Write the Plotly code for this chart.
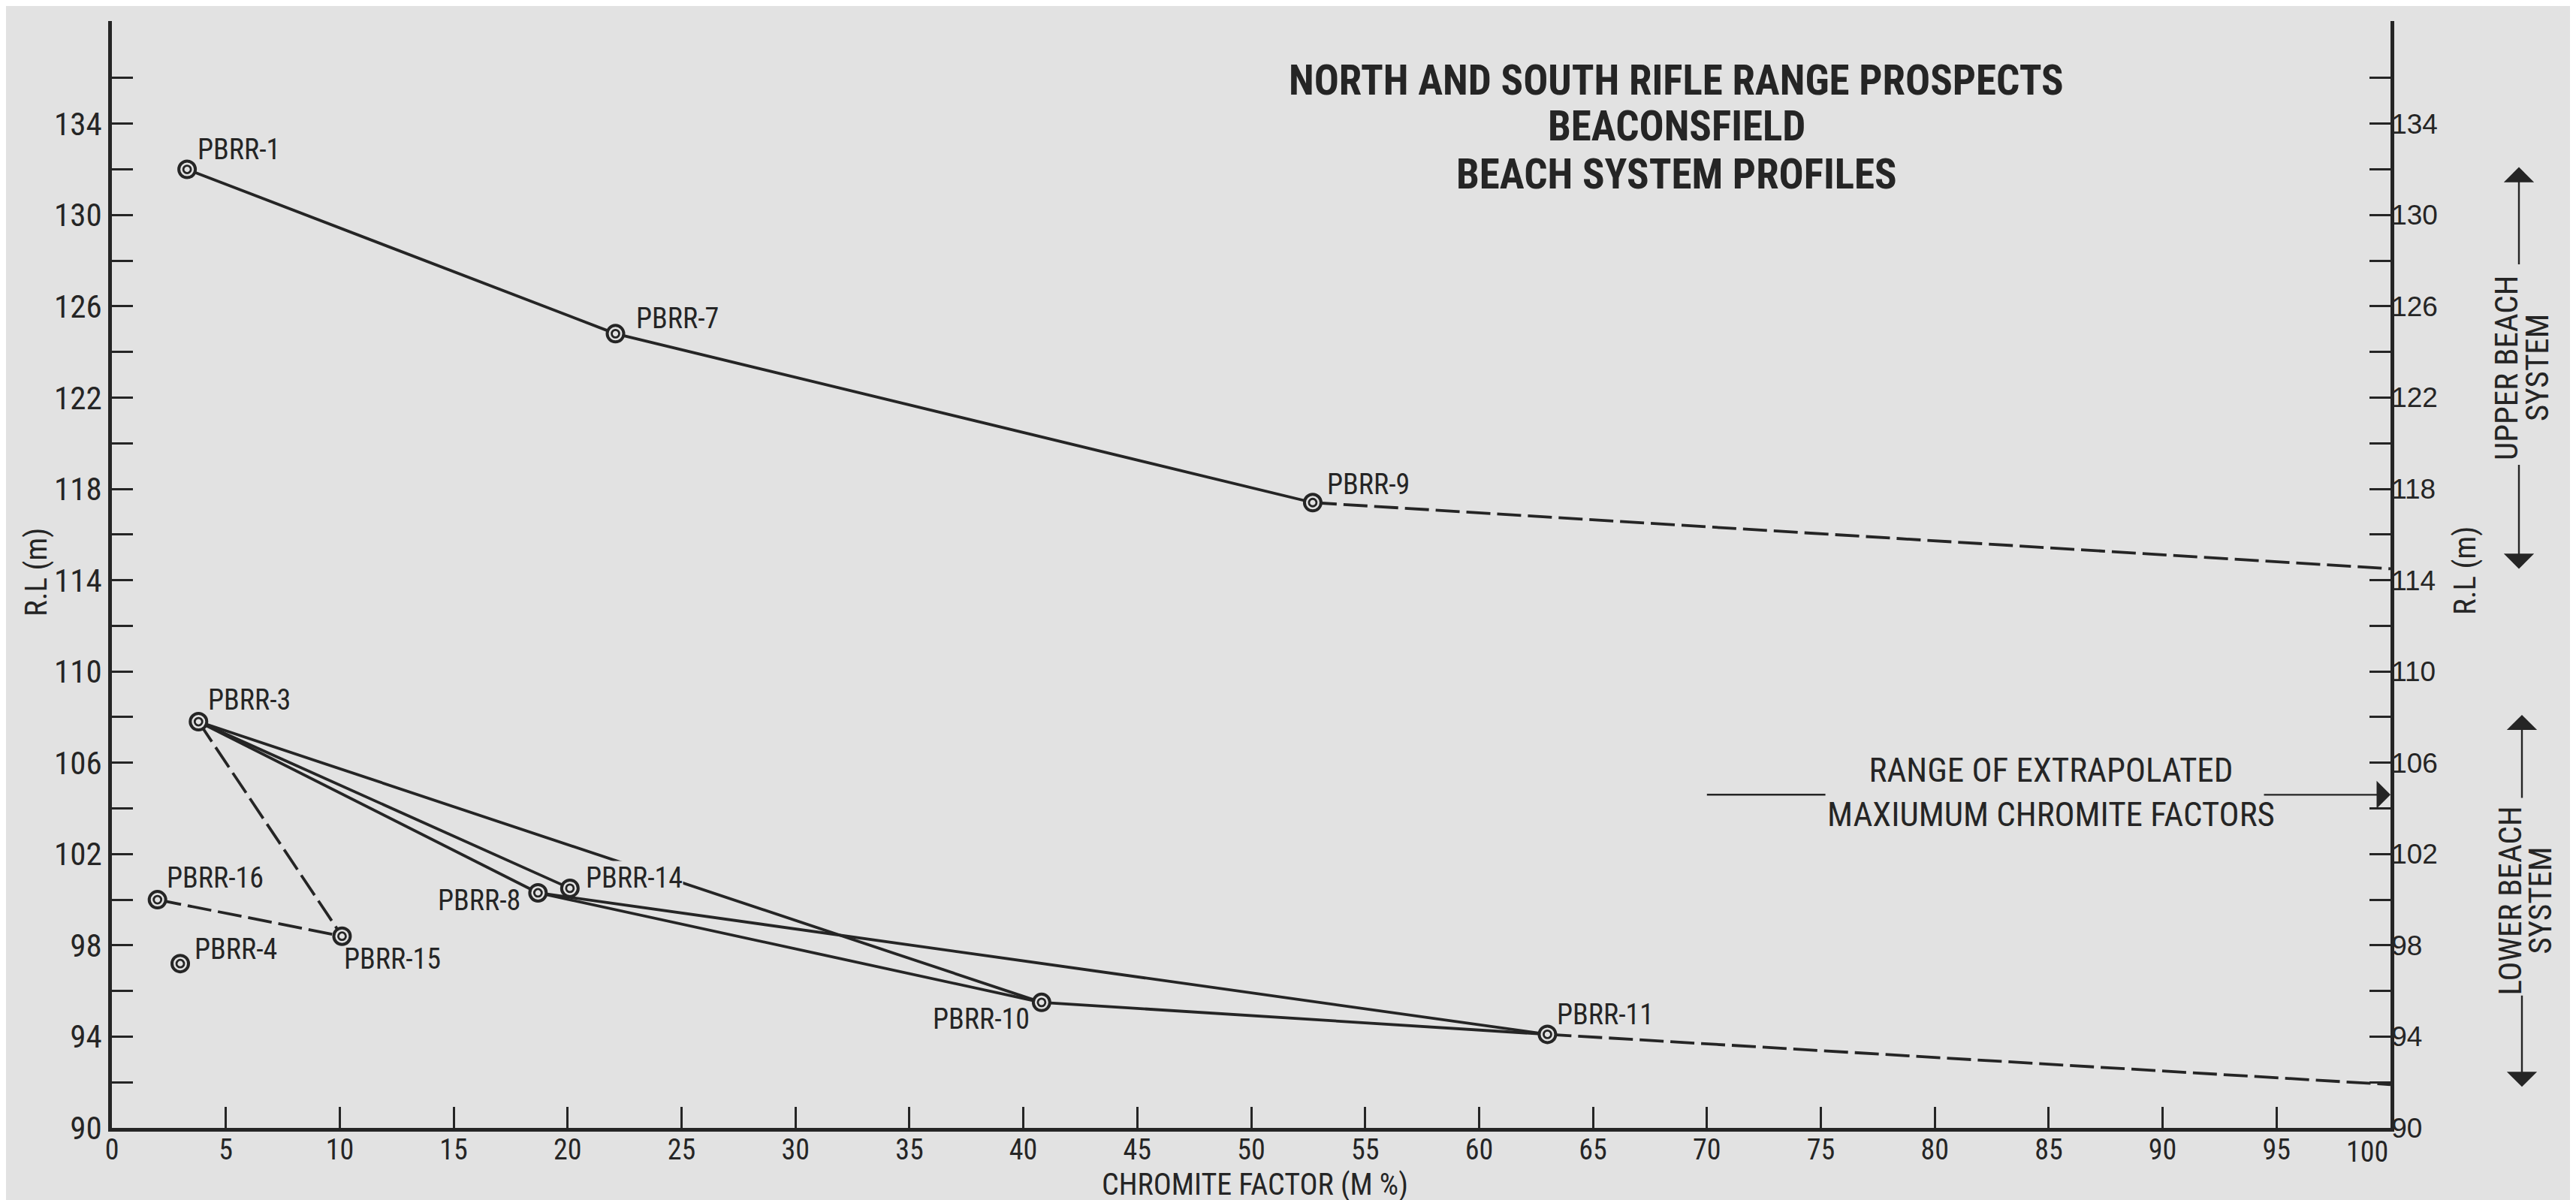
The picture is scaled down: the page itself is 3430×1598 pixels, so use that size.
import plotly.graph_objects as go

# ---------------- data ----------------
bore_names = ["PBRR-1", "PBRR-7", "PBRR-9", "PBRR-3", "PBRR-4", "PBRR-8",
              "PBRR-10", "PBRR-11", "PBRR-14", "PBRR-15", "PBRR-16"]
chromite_factor = [3.3, 22.1, 52.7, 3.8, 3.0, 18.7, 40.8, 63.0, 20.1, 10.1, 2.0]
reduced_level = [132.0, 124.8, 117.4, 107.8, 97.2, 100.3, 95.5, 94.1, 100.5, 98.4, 100.0]

solid_links = [("PBRR-1", "PBRR-7"), ("PBRR-7", "PBRR-9"),
               ("PBRR-3", "PBRR-14"), ("PBRR-3", "PBRR-8"), ("PBRR-3", "PBRR-10"),
               ("PBRR-8", "PBRR-10"), ("PBRR-8", "PBRR-11"), ("PBRR-10", "PBRR-11")]
dashed_links = [("PBRR-3", "PBRR-15"), ("PBRR-16", "PBRR-15")]

# extrapolated profiles to 100 % chromite factor
extrap_from = ["PBRR-9", "PBRR-11"]
extrap_cf = [100, 100]
extrap_rl = [114.5, 91.9]

max_cf_range_rl = 104.6          # range of extrapolated maximum chromite factors
upper_system_rl = [132.1, 114.5]  # upper beach system extent
lower_system_rl = [108.1, 91.8]   # lower beach system extent

x_tick_values = [0, 5, 10, 15, 20, 25, 30, 35, 40, 45, 50, 55, 60, 65, 70, 75, 80, 85, 90, 95, 100]
x_tick_labels = ["0", "5", "10", "15", "20", "25", "30", "35", "40", "45", "50", "55", "60",
                 "65", "70", "75", "80", "85", "90", "95", "100"]
y_tick_values = [90, 92, 94, 96, 98, 100, 102, 104, 106, 108, 110, 112, 114, 116, 118, 120,
                 122, 124, 126, 128, 130, 132, 134, 136]
y_tick_labels = ["90", "", "94", "", "98", "", "102", "", "106", "", "110", "", "114", "",
                 "118", "", "122", "", "126", "", "130", "", "134", ""]

title_lines = ["NORTH AND SOUTH RIFLE RANGE PROSPECTS", "BEACONSFIELD", "BEACH SYSTEM PROFILES"]

# ---------------- style ----------------
BG = "#e2e2e2"
INK = "#252525"
NARROW = "Liberation Sans Narrow, Roboto Condensed, DejaVu Sans Condensed, Arial Narrow, sans-serif"
WIDE = "Liberation Sans, Arial, Helvetica, sans-serif"

W, H = 3430, 1598
L, R, T, B = 141, 3175, 20, 1494


def px(xp):
    return (xp - L) / (R - L)


def py(yp):
    return (B - yp) / (B - T)


pos = {n: (x, y) for n, x, y in zip(bore_names, chromite_factor, reduced_level)}

fig = go.Figure()

# solid profile lines
sx, sy = [], []
for a, b in solid_links:
    sx += [pos[a][0], pos[b][0], None]
    sy += [pos[a][1], pos[b][1], None]
fig.add_trace(go.Scatter(x=sx, y=sy, mode="lines", line=dict(color=INK, width=3.8),
                         hoverinfo="skip", showlegend=False))

# dashed lines (inferred + extrapolated)
dx, dy = [], []
for a, b in dashed_links:
    dx += [pos[a][0], pos[b][0], None]
    dy += [pos[a][1], pos[b][1], None]
for a, ex, ey in zip(extrap_from, extrap_cf, extrap_rl):
    dx += [pos[a][0], ex, None]
    dy += [pos[a][1], ey, None]
fig.add_trace(go.Scatter(x=dx, y=dy, mode="lines",
                         line=dict(color=INK, width=3.8, dash="32px,9px"),
                         hoverinfo="skip", showlegend=False))

# double-circle markers
fig.add_trace(go.Scatter(x=chromite_factor, y=reduced_level, mode="markers",
                         marker=dict(symbol="circle", size=22, color=BG,
                                     line=dict(color=INK, width=4)),
                         text=bore_names, hoverinfo="text", showlegend=False))
fig.add_trace(go.Scatter(x=chromite_factor, y=reduced_level, mode="markers",
                         marker=dict(symbol="circle-open", size=10, color=INK,
                                     line=dict(color=INK, width=2.8)),
                         hoverinfo="skip", showlegend=False))

# invisible trace on right axis
fig.add_trace(go.Scatter(x=[None], y=[None], yaxis="y2", showlegend=False, hoverinfo="skip"))

# point labels: (xanchor, xshift, yshift)
label_style = {
    "PBRR-1": ("left", 13, 27), "PBRR-7": ("left", 26, 20), "PBRR-9": ("left", 18, 24),
    "PBRR-3": ("left", 12, 29), "PBRR-16": ("left", 11, 29), "PBRR-4": ("left", 18, 19),
    "PBRR-15": ("left", 2, -30), "PBRR-8": ("right", -22, -10), "PBRR-14": ("left", 20, 14),
    "PBRR-10": ("right", -15, -22), "PBRR-11": ("left", 12, 26),
}
annotations = []
for n, x, y in zip(bore_names, chromite_factor, reduced_level):
    xa, xs, ys = label_style[n]
    annotations.append(dict(x=x, y=y, xref="x", yref="y", text=n, showarrow=False,
                            xanchor=xa, yanchor="middle", xshift=xs, yshift=ys,
                            font=dict(family=NARROW, size=38, color=INK),
                            bgcolor=BG if n == "PBRR-14" else None, borderpad=0))

# last x tick label drawn slightly left of its tick (as in the original drawing)
annotations.append(dict(x=x_tick_values[-1], y=90, xref="x", yref="y", text=x_tick_labels[-1],
                        showarrow=False, xanchor="right", yanchor="middle",
                        xshift=-2, yshift=-32, borderpad=0,
                        font=dict(family=NARROW, size=38, color=INK)))
x_tick_text = x_tick_labels[:-1] + [""]

# title
for line, yp in zip(title_lines, [99, 160, 224]):
    annotations.append(dict(x=px(2224), y=py(yp), xref="paper", yref="paper", text=line,
                            showarrow=False, xanchor="center", yanchor="middle",
                            font=dict(family=NARROW, size=55, color=INK, weight="bold")))

# axis titles
annotations.append(dict(x=px(1663), y=py(1569), xref="paper", yref="paper",
                        text="CHROMITE FACTOR (M %)", showarrow=False,
                        xanchor="center", yanchor="middle", borderpad=0,
                        font=dict(family=NARROW, size=40, color=INK)))
annotations.append(dict(x=px(40), y=py(754), xref="paper", yref="paper", text="R.L (m)",
                        textangle=-90, showarrow=False, xanchor="center", yanchor="middle",
                        font=dict(family=NARROW, size=41, color=INK)))
annotations.append(dict(x=px(3274), y=py(752), xref="paper", yref="paper", text="R.L (m)",
                        textangle=-90, showarrow=False, xanchor="center", yanchor="middle",
                        font=dict(family=NARROW, size=41, color=INK)))

# range of extrapolated maximum chromite factors
annotations.append(dict(x=85.1, y=max_cf_range_rl + 0.1, xref="x", yref="y",
                        text="RANGE OF EXTRAPOLATED<br>MAXIUMUM CHROMITE FACTORS",
                        showarrow=False, xanchor="center", yanchor="middle",
                        font=dict(family=NARROW, size=45, color=INK)))
annotations.append(dict(x=100, y=max_cf_range_rl, xref="x", yref="y", text="",
                        showarrow=True, ax=-170, ay=0, arrowhead=1, arrowsize=2.8,
                        arrowwidth=2.2, arrowcolor=INK, standoff=0))


# upper / lower beach system arrows and labels
def system_block(rl_pair, ax_px, line1_px, line2_px, word1, gap_top, gap_bot):
    top, bot = rl_pair
    mid = (top + bot) / 2
    out = []
    out.append(dict(x=px(ax_px), y=top, xref="paper", yref="y", text="", showarrow=True,
                    ax=0, ay=gap_top, arrowhead=1, arrowsize=2.8, arrowwidth=2.4,
                    arrowcolor=INK))
    out.append(dict(x=px(ax_px), y=bot, xref="paper", yref="y", text="", showarrow=True,
                    ax=0, ay=-gap_bot, arrowhead=1, arrowsize=2.8, arrowwidth=2.4,
                    arrowcolor=INK))
    out.append(dict(x=px(line1_px), y=mid, xref="paper", yref="y", text=word1,
                    textangle=-90, showarrow=False, xanchor="center", yanchor="middle",
                    font=dict(family=NARROW, size=43, color=INK)))
    out.append(dict(x=px(line2_px), y=mid, xref="paper", yref="y", text="SYSTEM",
                    textangle=-90, showarrow=False, xanchor="center", yanchor="middle",
                    font=dict(family=NARROW, size=43, color=INK)))
    return out


annotations += system_block(upper_system_rl, 3346, 3329, 3370, "UPPER BEACH", 131, 140)
annotations += system_block(lower_system_rl, 3350, 3334, 3374, "LOWER BEACH", 112, 123)

shapes = [dict(type="line", xref="x", yref="y", x0=70, x1=75.2,
               y0=max_cf_range_rl, y1=max_cf_range_rl, line=dict(color=INK, width=2.5))]

axis_common = dict(showgrid=False, zeroline=False, showline=True, linecolor=INK, linewidth=4.5,
                   ticks="inside", ticklen=28, tickwidth=3, tickcolor=INK, automargin=False)

fig.update_layout(
    width=W, height=H,
    margin=dict(l=L, r=W - R, t=T, b=H - B, pad=0),
    paper_bgcolor=BG, plot_bgcolor=BG,
    showlegend=False,
    xaxis=dict(range=[0, 100], tickmode="array", tickvals=x_tick_values, ticktext=x_tick_text,
               ticklabelstandoff=-8,
               tickfont=dict(family=NARROW, size=38, color=INK), **axis_common),
    yaxis=dict(range=[90, 138.5], tickmode="array", tickvals=y_tick_values, ticktext=y_tick_labels,
               tickfont=dict(family=NARROW, size=43, color=INK), **axis_common),
    yaxis2=dict(range=[90, 138.5], tickmode="array", tickvals=y_tick_values, ticktext=y_tick_labels,
                overlaying="y", side="right", ticklabelstandoff=-11,
                tickfont=dict(family=WIDE, size=37, color=INK), **axis_common),
    annotations=annotations,
    shapes=shapes,
)

fig.write_html("out.html")
